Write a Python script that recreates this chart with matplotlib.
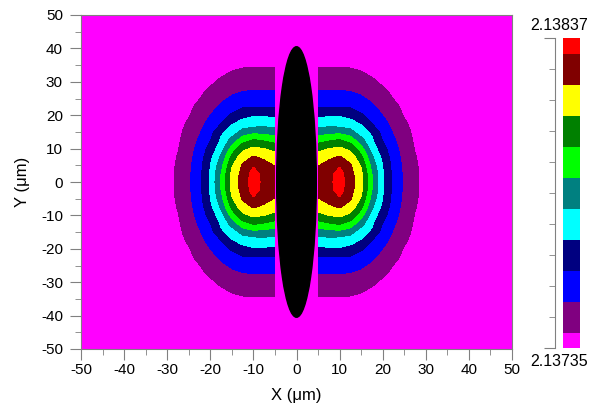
import numpy as np
import matplotlib
matplotlib.use("Agg")
import matplotlib.pyplot as plt
from matplotlib.patches import Ellipse
from matplotlib.ticker import MultipleLocator

plt.rcParams['font.family'] = ['Liberation Sans', 'DejaVu Sans']
plt.rcParams['axes.unicode_minus'] = False

# colour scale of the map
n_min = 2.13735
n_max = 2.13837
colors = ['#ff00ff', '#800080', '#0000ff', '#000080', '#00ffff', '#008080',
          '#00ff00', '#008000', '#ffff00', '#800000', '#ff0000']

# field, one quarter (x >= 5, y >= 0), in colour-bar
# divisions (0 = n_min, 10 = n_max); the map is mirror symmetric in x and y
x_q = [5, 7.5, 10, 12.5, 15, 17.5, 20, 22.5, 25, 27.5, 30, 32.5]
y_q = [0, 2.5, 5, 7.5, 10, 12.5, 15, 17.5, 20, 22.5, 25, 27.5, 30, 32.5, 35]
rel_q = [
    [9.0, 9.2, 10.0, 8.9, 7.87, 5.62, 3.64, 2.25, 1.34, 0.68, 0.18, 0],
    [8.9, 9.15, 9.9, 8.85, 7.76, 5.50, 3.60, 2.22, 1.32, 0.67, 0.18, 0],
    [8.45, 8.85, 9.4, 8.6, 7.37, 5.15, 3.48, 2.15, 1.27, 0.62, 0.17, 0],
    [7.9, 8.3, 8.6, 8.08, 6.78, 4.67, 3.25, 2.02, 1.18, 0.55, 0.15, 0],
    [7.2, 7.5, 7.7, 7.23, 5.88, 4.04, 2.87, 1.85, 1.08, 0.45, 0.13, 0],
    [6.1, 6.4, 6.6, 6.11, 4.86, 3.65, 2.45, 1.63, 0.97, 0.36, 0.10, 0],
    [5.0, 5.1, 5.2, 4.85, 3.94, 3.33, 2.16, 1.41, 0.83, 0.28, 0.07, 0],
    [4.1, 4.1, 4.0, 3.85, 3.42, 2.49, 1.83, 1.18, 0.65, 0.20, 0.03, 0],
    [3.3, 3.35, 3.4, 3.2, 2.63, 2.09, 1.49, 0.97, 0.43, 0.15, 0.01, 0],
    [2.46, 2.47, 2.48, 2.4, 2.12, 1.67, 1.19, 0.76, 0.30, 0.10, 0, 0],
    [2.0, 2.0, 2.0, 1.91, 1.65, 1.30, 0.93, 0.48, 0.19, 0.04, 0, 0],
    [1.46, 1.47, 1.48, 1.43, 1.25, 0.98, 0.65, 0.29, 0.12, 0, 0, 0],
    [1.1, 1.1, 1.1, 1.06, 0.92, 0.69, 0.32, 0.17, 0.04, 0, 0, 0],
    [0.8, 0.8, 0.8, 0.74, 0.58, 0.36, 0.19, 0.09, 0, 0, 0, 0],
    [0.4, 0.4, 0.4, 0.37, 0.30, 0.19, 0.11, 0.01, 0, 0, 0, 0],
]

# core outline (black)
core_w = 9.2
core_h = 81

# mirror the quarter into the full map
rel_q = np.array(rel_q)
y_full = np.concatenate([-np.array(y_q[:0:-1]), y_q])
rel_half = np.vstack([rel_q[:0:-1], rel_q])
step = (n_max - n_min) / 10
field_right = n_min + rel_half * step
field_left = field_right[:, ::-1]
x_right = np.array(x_q)
x_left = -x_right[::-1]
levels = n_min + np.arange(-0.5, 11.0, 1.0) * step

fig = plt.figure(figsize=(5.98, 4.04), dpi=100)
ax = fig.add_axes([81 / 598, 1 - 349 / 404, 431 / 598, 334 / 404])
ax.set_facecolor('#ff00ff')
for xs, f in [(x_left, field_left), (x_right, field_right)]:
    ax.contourf(xs, y_full, f, levels=levels, colors=colors)
ax.add_patch(Ellipse((0, 0), core_w, core_h, color='black', zorder=3))

ax.set_xlim(-50, 50)
ax.set_ylim(-50, 50)
ax.xaxis.set_major_locator(MultipleLocator(10))
ax.yaxis.set_major_locator(MultipleLocator(10))
ax.xaxis.set_minor_locator(MultipleLocator(5))
ax.yaxis.set_minor_locator(MultipleLocator(5))
ax.tick_params(which='major', length=8, color='gray', labelsize=11)
ax.tick_params(axis='x', which='major', pad=2)
ax.tick_params(axis='y', which='major', pad=5)
ax.tick_params(which='minor', length=4, color='gray')
for s in ax.spines.values():
    s.set_color('gray')
ax.set_xlabel('X (\u03bcm)', fontsize=12, labelpad=8)
ax.set_ylabel('Y (\u03bcm)', fontsize=12, labelpad=8)

# colour bar drawn by hand: end blocks are half height
cax = fig.add_axes([563 / 598, 1 - 348 / 404, 17 / 598, 310 / 404])
bounds = np.concatenate([[0], np.arange(0.5, 10, 1.0), [10]])
cax.pcolormesh([0, 1], bounds, np.arange(11).reshape(-1, 1),
               cmap=matplotlib.colors.ListedColormap(colors), vmin=-0.5, vmax=10.5)
cax.set_xlim(0, 1)
cax.set_ylim(0, 10)
cax.axis('off')

bax = fig.add_axes([555 / 598, 1 - 348 / 404, 0.0001, 310 / 404])
bax.set_ylim(0, 10)
bax.set_xticks([])
for k in ['top', 'bottom', 'right']:
    bax.spines[k].set_visible(False)
bax.spines['left'].set_color('gray')
bax.set_yticks([0, 10])
bax.set_yticks(np.arange(1, 10), minor=True)
bax.tick_params(which='major', length=8, color='gray', labelleft=False)
bax.tick_params(which='minor', length=4, color='gray')
bax.patch.set_visible(False)

fig.text(559 / 598, 1 - 26 / 404, f'{n_max:.5f}', ha='center', va='center', fontsize=11.5)
fig.text(559 / 598, 1 - 362 / 404, f'{n_min:.5f}', ha='center', va='center', fontsize=11.5)

fig.savefig('out.png', dpi=100)
